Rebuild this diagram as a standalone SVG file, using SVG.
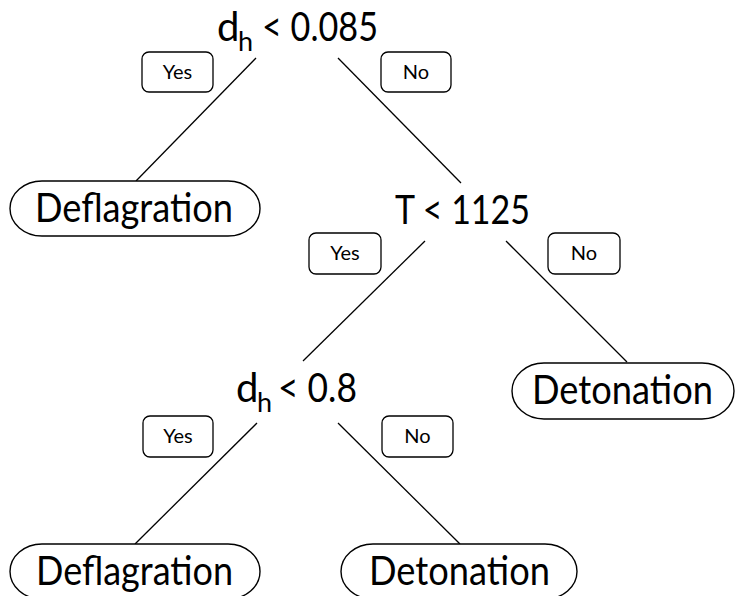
<svg xmlns="http://www.w3.org/2000/svg" width="735" height="596" viewBox="0 0 735 596">
  <style>
    .big { font-family: Lato, "Open Sans", "DejaVu Sans", sans-serif; font-size: 40px; fill: #000; }
    .sub { font-family: Lato, "Open Sans", "DejaVu Sans", sans-serif; font-size: 27px; fill: #000; }
    .lbl { font-family: Lato, "Open Sans", "DejaVu Sans", sans-serif; font-size: 20px; fill: #000; text-anchor: middle; }
    .box { fill: #fff; stroke: #000; stroke-width: 1.3; }
    .pill { fill: #fff; stroke: #000; stroke-width: 1.4; }
    .edge { stroke: #000; stroke-width: 1.3; fill: none; }
  </style>
  <rect width="735" height="596" fill="#fff"/>

  <!-- connectors -->
  <g id="connectors">
    <line class="edge" x1="256" y1="58" x2="136" y2="181"/>
    <line class="edge" x1="338" y1="58" x2="461" y2="183"/>
    <line class="edge" x1="425" y1="241" x2="303" y2="361"/>
    <line class="edge" x1="506" y1="241" x2="627" y2="362"/>
    <line class="edge" x1="257" y1="423" x2="135" y2="544"/>
    <line class="edge" x1="338" y1="423" x2="460" y2="544"/>
  </g>

  <!-- branch labels -->
  <g id="labels">
    <rect class="box" x="142" y="52" width="71" height="40" rx="7"/>
    <text class="lbl" x="177.5" y="79">Yes</text>
    <rect class="box" x="381" y="52" width="70" height="40" rx="7"/>
    <text class="lbl" x="416" y="79">No</text>

    <rect class="box" x="309" y="233" width="72" height="41" rx="7"/>
    <text class="lbl" x="345" y="260">Yes</text>
    <rect class="box" x="548" y="233" width="72" height="41" rx="7"/>
    <text class="lbl" x="584" y="260">No</text>

    <rect class="box" x="143" y="416" width="70" height="41" rx="7"/>
    <text class="lbl" x="178" y="443">Yes</text>
    <rect class="box" x="382" y="416" width="71" height="41" rx="7"/>
    <text class="lbl" x="417.5" y="443">No</text>
  </g>

  <!-- decision nodes -->
  <g id="split-dh-0085">
    <text class="big" x="217" y="41">d</text>
    <text class="sub" x="238" y="51">h</text>
    <text class="big" x="262" y="41" textLength="116" lengthAdjust="spacingAndGlyphs">&lt; 0.085</text>
  </g>
  <g id="split-T-1125">
    <text class="big" x="395" y="224" textLength="135" lengthAdjust="spacingAndGlyphs">T &lt; 1125</text>
  </g>
  <g id="split-dh-08">
    <text class="big" x="236" y="402">d</text>
    <text class="sub" x="257" y="412">h</text>
    <text class="big" x="278" y="402" textLength="79" lengthAdjust="spacingAndGlyphs">&lt; 0.8</text>
  </g>

  <!-- leaves -->
  <g id="leaf-deflagration-1">
    <rect class="pill" x="10" y="181" width="250" height="55" rx="32" ry="27.5"/>
    <text class="big" x="35" y="222" textLength="198" lengthAdjust="spacingAndGlyphs">Deflagration</text>
  </g>
  <g id="leaf-detonation-1">
    <rect class="pill" x="512" y="363" width="222" height="56" rx="32" ry="28"/>
    <text class="big" x="532" y="404" textLength="181" lengthAdjust="spacingAndGlyphs">Detonation</text>
  </g>
  <g id="leaf-deflagration-2">
    <rect class="pill" x="10" y="544" width="250" height="55" rx="32" ry="27.5"/>
    <text class="big" x="36" y="585" textLength="197" lengthAdjust="spacingAndGlyphs">Deflagration</text>
  </g>
  <g id="leaf-detonation-2">
    <rect class="pill" x="341" y="544" width="236" height="55" rx="32" ry="27.5"/>
    <text class="big" x="369" y="585" textLength="181" lengthAdjust="spacingAndGlyphs">Detonation</text>
  </g>
</svg>
